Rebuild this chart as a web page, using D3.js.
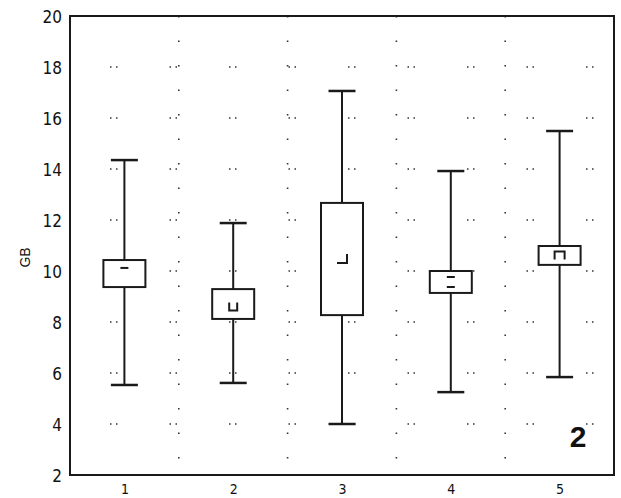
<!DOCTYPE html>
<html>
<head>
<meta charset="utf-8">
<script src="https://cdn.jsdelivr.net/npm/d3@7"></script>
<style>
  html, body { margin: 0; padding: 0; background: #fff; }
  svg { display: block; }
  text { font-family: "Liberation Sans", Arial, sans-serif; fill: #111; }
  .tick text { font-family: "Liberation Sans Narrow", "DejaVu Sans Condensed", "Liberation Sans", sans-serif; }
</style>
</head>
<body>
<svg id="chart" width="621" height="498"></svg>
<script>
// Box statistics per group (GB)
const groups     = [1, 2, 3, 4, 5];
const whiskerLow = [5.53, 5.61, 4.00, 5.25, 5.84];
const q1         = [9.37, 8.12, 8.27, 9.14, 10.24];
const median     = [10.12, 8.61, 10.49, 9.57, 10.61];
const q3         = [10.43, 9.29, 12.67, 10.00, 10.98];
const whiskerHigh= [14.35, 11.88, 17.06, 13.92, 15.49];
const yTicks     = [2, 4, 6, 8, 10, 12, 14, 16, 18, 20];
const yLabel     = "GB";
const panelTag   = "2";

const svg = d3.select("#chart");
const plotL = 70, plotR = 614, plotT = 16, plotB = 475;

const x = d3.scaleLinear().domain([0.5, 5.5]).range([plotL, plotR]);
const y = d3.scaleLinear().domain([2, 20]).range([plotB, plotT]);

const ink = "#1a1a1a";

// dotted grid
const grid = svg.append("g").attr("stroke", "#333").attr("stroke-width", 1.6).attr("fill", "none");
grid.selectAll("line.h").data(yTicks.slice(1, -1)).join("line")
  .attr("class", "h")
  .attr("x1", plotL + 40).attr("x2", plotR)
  .attr("y1", d => y(d)).attr("y2", d => y(d))
  .attr("stroke-dasharray", "1.5,4.5,1.5,52");
grid.selectAll("line.v").data(groups.slice(0, -1).map(g => g + 0.5)).join("line")
  .attr("class", "v")
  .attr("x1", d => x(d)).attr("x2", d => x(d))
  .attr("y1", plotT).attr("y2", plotB)
  .attr("stroke-dasharray", "1.5,23");

// axes
const yAxis = d3.axisLeft(y).tickValues(yTicks).tickSize(0).tickPadding(8);
const gy = svg.append("g").attr("transform", `translate(${plotL},0)`).call(yAxis);
gy.select(".domain").remove();
gy.selectAll("text").style("font-size", "17px").attr("fill", "#222")
  .attr("dy", "0.36em");

const xAxis = d3.axisBottom(x).tickValues(groups).tickSize(0).tickPadding(9).tickFormat(d3.format("d"));
const gx = svg.append("g").attr("transform", `translate(0,${plotB})`).call(xAxis);
gx.select(".domain").remove();
gx.selectAll("text").style("font-size", "14px").attr("fill", "#222");

svg.append("text")
  .attr("transform", `translate(30,${(plotT + plotB) / 2 + 12}) rotate(-90)`)
  .attr("text-anchor", "middle")
  .style("font-size", "14px")
  .attr("fill", "#222")
  .text(yLabel);

// frame
svg.append("rect")
  .attr("x", plotL).attr("y", plotT)
  .attr("width", plotR - plotL).attr("height", plotB - plotT)
  .attr("fill", "none").attr("stroke", ink).attr("stroke-width", 2);

// boxes
const boxW = 42, capW = 27;
const data = groups.map((g, i) => ({
  g, i, lo: whiskerLow[i], q1: q1[i], med: median[i], q3: q3[i], hi: whiskerHigh[i]
}));

const box = svg.append("g").attr("stroke", ink).attr("stroke-width", 2).attr("fill", "none");
const b = box.selectAll("g").data(data).join("g");

b.append("line").attr("x1", d => x(d.g)).attr("x2", d => x(d.g))
  .attr("y1", d => y(d.hi)).attr("y2", d => y(d.q3));
b.append("line").attr("x1", d => x(d.g)).attr("x2", d => x(d.g))
  .attr("y1", d => y(d.q1)).attr("y2", d => y(d.lo));
b.append("line").attr("x1", d => x(d.g) - capW / 2).attr("x2", d => x(d.g) + capW / 2)
  .attr("y1", d => y(d.hi)).attr("y2", d => y(d.hi)).attr("stroke-width", 2.5);
b.append("line").attr("x1", d => x(d.g) - capW / 2).attr("x2", d => x(d.g) + capW / 2)
  .attr("y1", d => y(d.lo)).attr("y2", d => y(d.lo)).attr("stroke-width", 2.5);
b.append("rect")
  .attr("x", d => x(d.g) - boxW / 2).attr("width", boxW)
  .attr("y", d => y(d.q3)).attr("height", d => y(d.q1) - y(d.q3))
  .attr("fill", "#fff");

// median markers: a small glyph per group centred on the median
const glyphs = [
  (cx, cy) => `M${cx - 4},${cy}H${cx + 4}`,
  (cx, cy) => `M${cx - 4},${cy - 4}V${cy + 4}H${cx + 4}V${cy - 4}`,
  (cx, cy) => `M${cx - 5},${cy + 4.5}H${cx + 5}V${cy - 4.5}`,
  (cx, cy) => `M${cx - 4},${cy - 5}H${cx + 4}M${cx - 4},${cy + 5}H${cx + 4}`,
  (cx, cy) => `M${cx - 5},${cy + 4}V${cy - 4}H${cx + 5}V${cy + 4}`
];
b.append("path").attr("d", d => glyphs[d.i](x(d.g), y(d.med)));

// panel tag
svg.append("text")
  .attr("x", 578).attr("y", 447)
  .attr("text-anchor", "middle")
  .style("font-size", "30px").style("font-weight", "bold")
  .attr("fill", "#000")
  .text(panelTag);
</script>
</body>
</html>
